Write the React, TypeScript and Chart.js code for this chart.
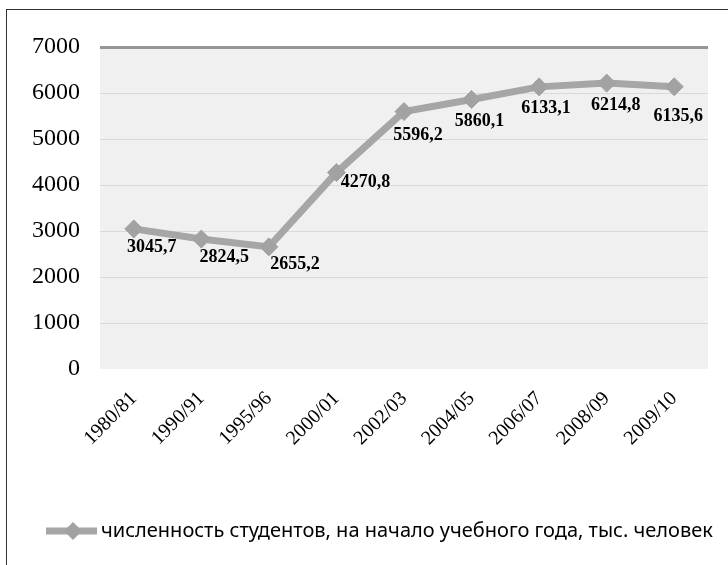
import { useEffect, useRef } from 'react';
import { Chart, registerables } from 'chart.js';

Chart.register(...registerables);

const categories = ['1980/81', '1990/91', '1995/96', '2000/01', '2002/03', '2004/05', '2006/07', '2008/09', '2009/10'];
const students = [3045.7, 2824.5, 2655.2, 4270.8, 5596.2, 5860.1, 6133.1, 6214.8, 6135.6];
const seriesName = 'численность студентов, на начало учебного года, тыс. человек';
const yMin = 0;
const yMax = 7000;
const yStep = 1000;

// style: data label offsets relative to each point
const labelDx = [18, 23, 26, 29, 14, 8, 7, 9, 4];
const labelDy = [18, 18, 17, 10, 24, 22, 21, 22, 30];

const LINE_COLOR = '#a6a6a6';
const MARKER_COLOR = '#a2a2a2';

const fmt = (v: number) => v.toFixed(1).replace('.', ',');

export default function App() {
  const ref = useRef<HTMLCanvasElement | null>(null);
  useEffect(() => {
    document.body.style.margin = '0';
    const canvas = ref.current!;
    const bgPlugin = {
      id: 'bg',
      beforeDraw(chart: any) {
        const { ctx, chartArea: a } = chart;
        ctx.save();
        ctx.fillStyle = '#f0f0f0';
        ctx.fillRect(a.left, a.top, a.right - a.left, a.bottom - a.top);
        ctx.restore();
      },
    };
    const labelPlugin = {
      id: 'vlabels',
      afterDatasetsDraw(chart: any) {
        const { ctx } = chart;
        const meta = chart.getDatasetMeta(0);
        ctx.save();
        ctx.font = 'bold 18px "Liberation Serif"';
        ctx.fillStyle = '#000';
        ctx.textAlign = 'center';
        ctx.textBaseline = 'middle';
        meta.data.forEach((pt: any, i: number) => {
          ctx.fillText(fmt(students[i]), pt.x + labelDx[i], pt.y + labelDy[i]);
        });
        ctx.restore();
      },
    };
    const legendPlugin = {
      id: 'legendDraw',
      afterDraw(chart: any) {
        const { ctx } = chart;
        const y = 531;
        ctx.save();
        ctx.strokeStyle = LINE_COLOR;
        ctx.lineWidth = 7;
        ctx.beginPath();
        ctx.moveTo(46, y);
        ctx.lineTo(97, y);
        ctx.stroke();
        ctx.fillStyle = MARKER_COLOR;
        ctx.beginPath();
        ctx.moveTo(73, y - 9);
        ctx.lineTo(82, y);
        ctx.lineTo(73, y + 9);
        ctx.lineTo(64, y);
        ctx.closePath();
        ctx.fill();
        ctx.fillStyle = '#000';
        ctx.font = '20px "Noto Sans"';
        ctx.textAlign = 'left';
        ctx.textBaseline = 'middle';
        ctx.fillText(seriesName, 101, y);
        ctx.restore();
      },
    };
    const chart = new Chart(canvas, {
      type: 'line',
      data: {
        labels: categories,
        datasets: [
          {
            label: seriesName,
            data: students,
            borderColor: LINE_COLOR,
            borderWidth: 7,
            pointStyle: 'rectRot',
            pointRadius: 9,
            pointBackgroundColor: MARKER_COLOR,
            pointBorderColor: MARKER_COLOR,
            pointBorderWidth: 1,
            tension: 0,
          },
        ],
      },
      options: {
        responsive: false,
        animation: false,
        devicePixelRatio: 1,
        layout: { padding: { top: 47, right: 20, bottom: 0, left: 0 } },
        plugins: {
          legend: { display: false },
          tooltip: { enabled: false },
        },
        scales: {
          x: {
            offset: true,
            grid: { display: false, drawTicks: false },
            border: { display: false },
            ticks: {
              minRotation: 45,
              maxRotation: 45,
              padding: 18,
              color: '#000',
              font: { family: '"Liberation Serif"', size: 20 },
            },
            afterFit(scale: any) {
              scale.height = 196;
            },
          },
          y: {
            min: yMin,
            max: yMax,
            grid: {
              drawTicks: false,
              color: (c: any) => (c.tick && c.tick.value === yMax ? '#969696' : c.tick && c.tick.value === yMin ? 'rgba(0,0,0,0)' : '#d9d9d9'),
              lineWidth: (c: any) => (c.tick && c.tick.value === yMax ? 3 : 1),
            },
            border: { display: false },
            ticks: {
              stepSize: yStep,
              padding: 20,
              color: '#000',
              font: { family: '"Liberation Serif"', size: 24 },
              callback: (v: any) => String(v),
            },
            afterFit(scale: any) {
              scale.width = 100;
            },
          },
        },
      },
      plugins: [bgPlugin, labelPlugin, legendPlugin],
    });
    return () => chart.destroy();
  }, []);
  return (
    <div style={{ position: 'relative', width: 728, height: 565, overflow: 'hidden' }}>
      <canvas ref={ref} width={728} height={565} style={{ width: 728, height: 565, display: 'block' }} />
      <div
        style={{
          position: 'absolute',
          left: 6,
          top: 9,
          width: 800,
          height: 700,
          borderLeft: '1.5px solid #333',
          borderTop: '1.5px solid #333',
          pointerEvents: 'none',
        }}
      />
    </div>
  );
}
